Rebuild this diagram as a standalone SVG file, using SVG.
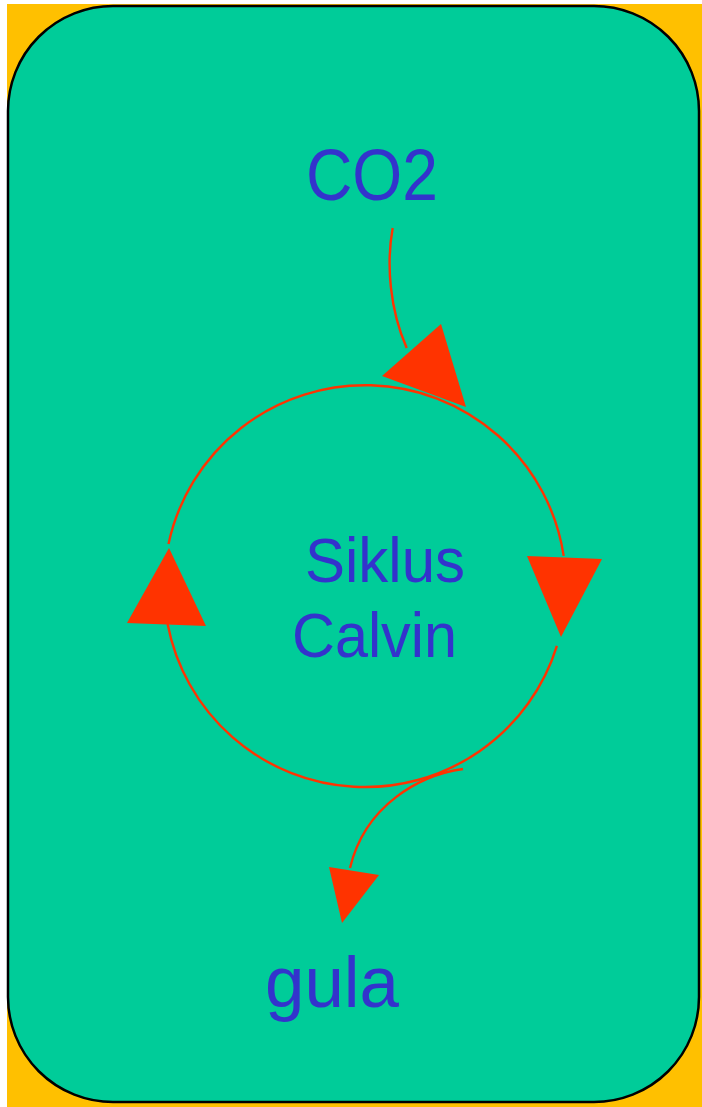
<svg xmlns="http://www.w3.org/2000/svg" width="702" height="1107" viewBox="0 0 702 1107">
  <style>
    .lbl { font-family: "Liberation Sans", Arial, sans-serif; fill: #3333CC; }
    .ln { fill: none; stroke: #FF3300; stroke-width: 2.4; }
    .ah { fill: #FF3300; stroke: none; }
  </style>
  <rect x="0" y="0" width="702" height="1107" fill="#FFFFFF"/>
  <rect x="7" y="4" width="695" height="1103" fill="#FFC000"/>
  <g id="cell">
    <rect x="8" y="6" width="691" height="1096" rx="105" ry="105" fill="#00CC99" stroke="#000000" stroke-width="2.5"/>
  </g>
  <g id="co2">
    <text class="lbl" x="306" y="200" font-size="72" textLength="132" lengthAdjust="spacingAndGlyphs">CO2</text>
  </g>
  <g id="calvin">
    <text class="lbl" x="305" y="582" font-size="63" textLength="160" lengthAdjust="spacingAndGlyphs">Siklus</text>
    <text class="lbl" x="292" y="657" font-size="63" textLength="165" lengthAdjust="spacingAndGlyphs">Calvin</text>
  </g>
  <g id="gula">
    <text class="lbl" x="265" y="1007" font-size="72" textLength="134" lengthAdjust="spacingAndGlyphs">gula</text>
  </g>
  <g id="connectors">
    <path class="ln" d="M556.9,645.8 A201,201 0 0 1 167.6,624"/>
    <path class="ln" d="M168.5,543.9 A201,201 0 0 1 563.7,555.9"/>
    <polygon class="ah" points="527,556 602,559 561,637"/>
    <polygon class="ah" points="169,548 127,623 206,626"/>
    <path class="ln" d="M392.7,228 C386,265 390,310 406.7,348"/>
    <polygon class="ah" points="382,376 441,324 466,407"/>
    <path class="ln" d="M463,769 C420,775 365,805 350,868"/>
    <polygon class="ah" points="329,867 379,875 342,923"/>
  </g>
</svg>
